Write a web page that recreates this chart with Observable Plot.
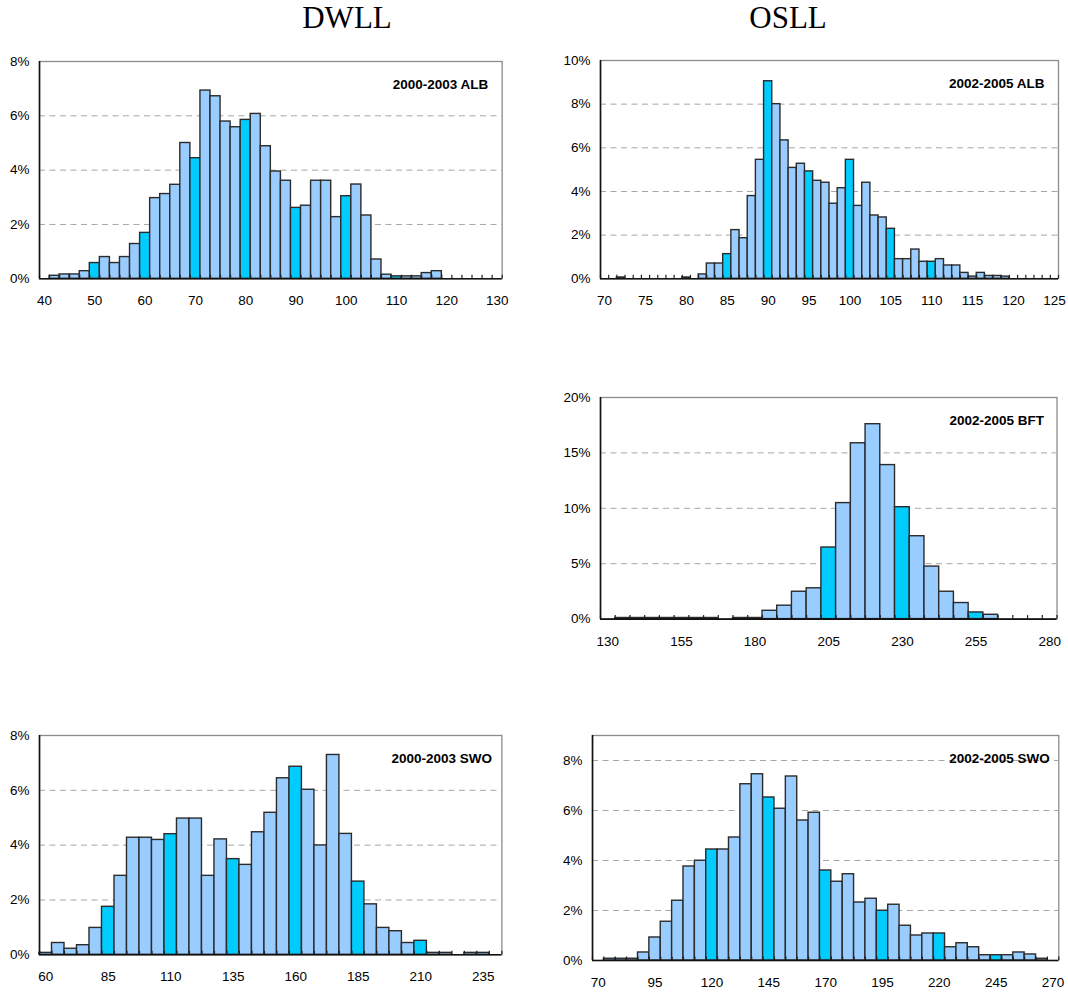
<!DOCTYPE html>
<html><head><meta charset="utf-8">
<script src="https://cdn.jsdelivr.net/npm/d3@7"></script>
<script src="https://cdn.jsdelivr.net/npm/@observablehq/plot@0.6"></script>
<style>
body{margin:0;background:#fff;}
#chart{position:relative;width:1068px;height:993px;background:#fff;overflow:hidden;}
.title{position:absolute;top:2px;font-family:"Liberation Serif","Times New Roman",serif;font-size:31px;line-height:1;transform:translateX(-50%);white-space:nowrap;color:#000;}
#chart svg{position:absolute;overflow:visible;}
</style></head><body><div id="chart"></div><script>
// ---------- DATA ----------
const columnTitles = ["DWLL", "OSLL"];

// DWLL 2000-2003 ALB (bin width 2)
const dwllAlbBins = [40,42,44,46,48,50,52,54,56,58,60,62,64,66,68,70,72,74,76,78,80,82,84,86,88,90,92,94,96,98,100,102,104,106,108,110,112,114,116,118,120,122,124,126,128,130];
const dwllAlbPct  = [0,0.11,0.16,0.16,0.28,0.58,0.80,0.58,0.80,1.28,1.69,2.97,3.12,3.46,5.0,4.44,6.93,6.72,5.79,5.58,5.85,6.07,4.88,3.95,3.61,2.61,2.69,3.61,3.61,2.27,3.04,3.47,2.33,0.71,0.15,0.09,0.09,0.09,0.21,0.28,0,0,0,0,0,0];
const dwllAlbTicks = [40,50,60,70,80,90,100,110,120,130];
const dwllAlbHighlight = [50,60,70,80,90,100,110];

// OSLL 2002-2005 ALB (bin width 1)
const osllAlbBins = [70,71,72,73,74,75,76,77,78,79,80,81,82,83,84,85,86,87,88,89,90,91,92,93,94,95,96,97,98,99,100,101,102,103,104,105,106,107,108,109,110,111,112,113,114,115,116,117,118,119,120,121,122,123,124,125];
const osllAlbPct  = [0,0,0.06,0,0,0,0,0,0,0,0.06,0,0.2,0.7,0.7,1.13,2.23,1.86,3.79,5.45,9.05,8.0,6.34,5.08,5.27,4.92,4.49,4.40,3.44,4.15,5.45,3.34,4.40,2.90,2.81,2.29,0.90,0.90,1.34,0.78,0.78,0.90,0.61,0.61,0.27,0.1,0.27,0.13,0.13,0.1,0,0,0,0,0,0];
const osllAlbTicks = [70,75,80,85,90,95,100,105,110,115,120,125];
const osllAlbHighlight = [85,90,95,100,105,110];

// OSLL 2002-2005 BFT (bin width 5)
const osllBftBins = [130,135,140,145,150,155,160,165,170,175,180,185,190,195,200,205,210,215,220,225,230,235,240,245,250,255,260,265,270,275,280];
const osllBftPct  = [0,0.1,0.1,0.1,0.1,0.1,0.1,0.1,0,0.1,0.1,0.75,1.21,2.47,2.78,6.46,10.47,15.87,17.59,13.9,10.1,7.48,4.74,2.47,1.45,0.6,0.39,0,0,0,0];
const osllBftTicks = [130,155,180,205,230,255,280];
const osllBftHighlight = [205,230,255];

// DWLL 2000-2003 SWO (bin width 5)
const dwllSwoBins = [60,65,70,75,80,85,90,95,100,105,110,115,120,125,130,135,140,145,150,155,160,165,170,175,180,185,190,195,200,205,210,215,220,225,230,235,240];
const dwllSwoPct  = [0.07,0.43,0.22,0.35,0.98,1.75,2.88,4.27,4.27,4.19,4.40,4.97,4.97,2.88,4.21,3.49,3.28,4.47,5.18,6.44,6.86,6.02,3.99,7.29,4.41,2.67,1.84,0.98,0.86,0.43,0.51,0.07,0.07,0,0.07,0.07,0];
const dwllSwoTicks = [60,85,110,135,160,185,210,235];
const dwllSwoHighlight = [85,110,135,160,185,210];

// OSLL 2002-2005 SWO (bin width 5)
const osllSwoBins = [70,75,80,85,90,95,100,105,110,115,120,125,130,135,140,145,150,155,160,165,170,175,180,185,190,195,200,205,210,215,220,225,230,235,240,245,250,255,260,265,270];
const osllSwoPct  = [0,0.07,0.07,0.07,0.32,0.92,1.55,2.39,3.76,3.99,4.44,4.44,4.92,7.05,7.45,6.52,6.07,7.36,5.6,5.91,3.6,3.15,3.45,2.32,2.47,1.99,2.23,1.39,1.0,1.08,1.08,0.53,0.69,0.53,0.21,0.21,0.21,0.32,0.24,0.07,0];
const osllSwoTicks = [70,95,120,145,170,195,220,245,270];
const osllSwoHighlight = [120,145,170,195,220,245];

const yTicks8  = [0,2,4,6,8];
const yTicks10 = [0,2,4,6,8,10];
const yTicks20 = [0,5,10,15,20];

const panelLabels = ["2000-2003 ALB", "2002-2005 ALB", "2002-2005 BFT", "2000-2003 SWO", "2002-2005 SWO"];

// ---------- LAYOUT ----------
const panels = [
  {bins: dwllAlbBins, pct: dwllAlbPct, hi: dwllAlbHighlight, step: 2, xTicks: dwllAlbTicks, yMax: 8,  yTicks: yTicks8,  label: panelLabels[0], frame: [39.3, 61, 502, 278.3],   dx: -14},
  {bins: osllAlbBins, pct: osllAlbPct, hi: osllAlbHighlight, step: 1, xTicks: osllAlbTicks, yMax: 10, yTicks: yTicks10, label: panelLabels[1], frame: [599.5, 60, 1057.5, 278.3], dx: -14},
  {bins: osllBftBins, pct: osllBftPct, hi: osllBftHighlight, step: 5, xTicks: osllBftTicks, yMax: 20, yTicks: yTicks20, label: panelLabels[2], frame: [600, 396.7, 1056.5, 618.3], dx: -13},
  {bins: dwllSwoBins, pct: dwllSwoPct, hi: dwllSwoHighlight, step: 5, xTicks: dwllSwoTicks, yMax: 8,  yTicks: yTicks8,  label: panelLabels[3], frame: [39.3, 734.7, 501.7, 954],  dx: -10},
  {bins: osllSwoBins, pct: osllSwoPct, hi: osllSwoHighlight, step: 5, xTicks: osllSwoTicks, yMax: 9,  yTicks: yTicks8,  label: panelLabels[4], frame: [591.7, 734.7, 1058, 959.7], dx: -9}
];

const chart = document.getElementById("chart");
const titlePos = [347, 788];
columnTitles.forEach((t, i) => {
  const d = document.createElement("div");
  d.className = "title";
  d.textContent = t;
  d.style.left = titlePos[i] + "px";
  chart.appendChild(d);
});

const FILL = "#99CCFF", HIGHLIGHT = "#00CCFF", EDGE = "#2b2b2b";
const ML = 50, MT = 10, MR = 12, MB = 38;

panels.forEach(p => {
  const [fl, ft, fr, fb] = p.frame;
  const width = (fr - fl) + ML + MR;
  const height = (fb - ft) + MT + MB;
  const rows = p.bins.map((b, i) => ({bin: b, v: p.pct[i], hi: p.hi.includes(b)}));
  const half = p.step / 2;
  const bounds = p.bins.map(b => b - half).concat([p.bins[p.bins.length - 1] + half]);
  const grid = p.yTicks.filter(t => t > 0 && t < p.yMax);
  const svg = Plot.plot({
    width, height,
    marginLeft: ML, marginTop: MT, marginRight: MR, marginBottom: MB,
    style: {fontFamily: "'Liberation Sans', Arial, sans-serif", fontSize: "13.5px", color: "#000", background: "transparent"},
    x: {type: "linear", domain: [p.bins[0] - half, p.bins[p.bins.length - 1] + half]},
    y: {domain: [0, p.yMax]},
    marks: [
      Plot.frame({stroke: "#8c8c8c", strokeWidth: 1.3}),
      Plot.ruleY(grid, {stroke: "#a6a6a6", strokeWidth: 1, strokeDasharray: "6,4.5"}),
      Plot.rectY(rows.filter(d => d.v > 0), {
        x1: d => d.bin - half, x2: d => d.bin + half, y1: 0, y2: d => d.v,
        fill: d => d.hi ? HIGHLIGHT : FILL, stroke: EDGE, strokeWidth: 1.4
      }),
      Plot.ruleX(bounds, {x: d => d, y1: () => 0, y2: () => 0, insetTop: -3.5, stroke: "#222", strokeWidth: 1.2}),
      Plot.ruleY([0], {stroke: "#111", strokeWidth: 1.6}),
      Plot.ruleX([p.bins[0] - half], {stroke: "#111", strokeWidth: 1.6}),
      Plot.axisX({ticks: p.xTicks, tickSize: 0, tickPadding: 17, tickFormat: d => String(d), fill: "#000"}),
      Plot.axisY({ticks: p.yTicks, tickSize: 0, tickPadding: 10, tickFormat: d => d + "%", fill: "#000"}),
      Plot.text([p.label], {frameAnchor: "top-right", text: d => d, dx: p.dx, dy: 23, textAnchor: "end", lineAnchor: "middle", fontWeight: "bold", fontSize: 13.5, fill: "#000"})
    ]
  });
  svg.style.left = (fl - ML) + "px";
  svg.style.top = (ft - MT) + "px";
  chart.appendChild(svg);
});
</script></body></html>
